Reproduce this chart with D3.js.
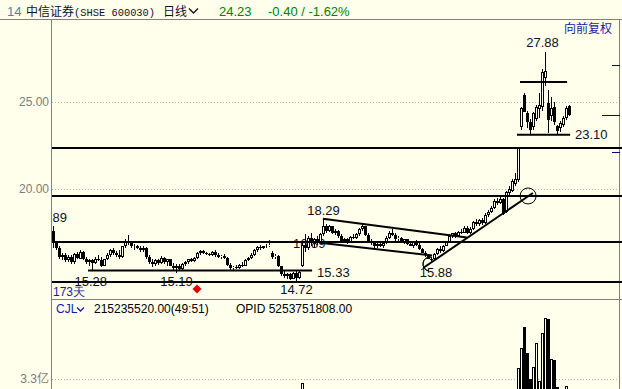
<!DOCTYPE html>
<meta charset="utf-8">
<style>
body { margin: 0; background: #ffffec; }
svg { display: block; font-family: "Liberation Sans", Arial, sans-serif; }
</style>
<body>
<svg width="622" height="389"></svg>
<script src="https://cdn.jsdelivr.net/npm/d3@7"></script>
<script>

// daily bars, forward adjusted (向前复权)
var opens = [
  17.6,16.9,16.6,16.1,16.2,15.9,16.1,15.8,16.25,16.0,
  16.4,16.0,15.8,15.9,15.75,16.0,15.9,15.6,15.95,16.2,
  16.5,16.3,16.2,16.1,16.7,17.0,16.9,16.7,16.75,16.6,
  16.5,16.6,16.1,15.8,15.7,15.9,15.75,16.05,15.8,15.95,
  15.6,15.45,15.6,15.4,15.7,15.8,15.95,15.85,16.05,16.3,
  16.45,16.3,16.25,16.2,16.4,16.2,16.1,16.15,16.05,15.65,
  15.45,15.5,15.45,15.65,15.6,15.9,16.05,16.2,16.5,16.65,
  16.6,16.7,16.75,16.3,16.1,16.15,15.55,15.1,15.0,15.1,
  14.85,15.2,14.9,15.6,16.8,16.6,17.2,16.9,17.1,16.95,
  17.4,17.9,17.6,17.85,17.45,17.6,17.3,17.0,17.1,16.95,
  17.25,17.2,17.4,17.7,17.85,17.35,17.0,16.9,16.7,16.85,
  16.7,16.9,17.2,17.5,17.35,17.1,17.2,16.95,17.1,16.85,
  16.75,16.95,16.8,16.55,16.35,16.2,16.0,15.95,16.25,16.55,
  16.45,16.75,16.95,17.3,17.45,17.3,17.55,17.5,17.75,17.45,
  17.7,18.1,18.0,18.2,18.05,18.5,18.7,18.9,19.3,19.2,
  19.4,18.7,19.75,19.9,20.3,20.5,23.55,25.4,24.35,23.85,
  23.55,24.0,24.6,24.7,26.4,24.95,24.2,24.7,23.6,23.5,
  23.7,24.1,24.75
];
var highs = [
  17.89,17.0,16.7,16.3,16.3,16.2,16.2,16.3,16.4,16.5,
  16.45,16.1,16.0,16.0,16.1,16.2,16.1,16.0,16.3,16.55,
  16.6,16.45,16.5,16.75,17.1,17.35,17.0,16.85,16.8,16.75,
  16.7,16.65,16.2,16.0,16.0,16.0,16.15,16.1,16.0,16.0,
  15.75,15.7,15.7,15.75,15.85,16.0,16.05,16.1,16.4,16.5,
  16.5,16.4,16.35,16.45,16.5,16.3,16.2,16.25,16.1,15.75,
  15.6,15.65,15.7,15.8,15.95,16.1,16.3,16.55,16.7,16.8,
  16.75,16.85,17.05,16.45,16.25,16.2,15.6,15.3,15.2,15.2,
  15.25,15.3,15.33,17.0,17.4,17.3,17.5,17.2,17.3,17.45,
  18.29,18.0,17.95,17.9,17.7,17.65,17.4,17.2,17.2,17.3,
  17.4,17.5,17.75,17.95,17.9,17.45,17.1,17.0,16.9,16.95,
  16.95,17.3,17.6,17.7,17.45,17.3,17.25,17.15,17.15,16.95,
  17.0,17.05,16.9,16.6,16.45,16.25,16.1,16.3,16.6,16.7,
  16.8,17.0,17.4,17.5,17.55,17.6,17.7,17.85,17.85,17.8,
  18.15,18.3,18.25,18.35,18.6,18.8,19.0,19.4,19.5,19.55,
  19.5,19.9,20.2,20.6,20.9,22.4,24.7,25.5,24.5,24.0,
  24.4,24.8,25.5,26.9,27.88,25.7,25.3,25.0,23.7,23.9,
  24.2,24.75,24.8
];
var lows = [
  16.6,16.5,16.0,15.9,15.8,15.8,15.7,15.7,16.0,15.95,
  15.9,15.7,15.6,15.28,15.7,15.85,15.5,15.55,15.9,16.1,
  16.2,16.1,16.0,16.05,16.6,16.8,16.6,16.5,16.55,16.4,
  16.4,16.0,15.7,15.5,15.6,15.65,15.7,15.7,15.6,15.55,
  15.3,15.19,15.3,15.35,15.6,15.7,15.8,15.8,16.0,16.2,
  16.25,16.2,16.15,16.15,16.1,16.05,15.95,16.0,15.6,15.35,
  15.35,15.4,15.4,15.5,15.55,15.85,15.95,16.15,16.4,16.5,
  16.55,16.6,16.65,16.0,15.95,15.5,15.0,14.9,14.8,14.78,
  14.8,14.72,14.8,15.5,16.4,16.5,16.7,16.6,16.8,16.9,
  17.3,17.5,17.55,17.4,17.35,17.2,16.9,16.95,16.85,16.9,
  17.1,17.1,17.3,17.6,17.3,16.95,16.8,16.6,16.6,16.65,
  16.6,16.85,17.1,17.3,17.0,17.0,16.9,16.85,16.8,16.7,
  16.6,16.7,16.5,16.3,16.1,15.95,15.88,15.9,16.2,16.35,
  16.4,16.7,16.9,17.2,17.2,17.25,17.4,17.45,17.4,17.4,
  17.65,17.9,17.85,17.95,18.0,18.4,18.6,18.85,19.1,19.15,
  18.5,18.6,19.6,19.8,20.2,20.4,23.4,24.4,23.5,23.10,
  23.4,23.9,24.1,24.5,25.9,23.2,23.9,23.7,23.1,23.3,
  23.55,23.95,24.2
];
var closes = [
  16.9,16.6,16.1,16.2,15.9,16.1,15.8,16.25,16.05,16.4,
  16.0,15.8,15.9,15.75,16.0,15.9,15.6,15.95,16.2,16.5,
  16.3,16.2,16.1,16.7,17.0,16.9,16.7,16.75,16.6,16.5,
  16.6,16.1,15.8,15.7,15.9,15.75,16.05,15.8,15.95,15.6,
  15.45,15.6,15.4,15.7,15.8,15.95,15.85,16.05,16.3,16.45,
  16.3,16.25,16.2,16.4,16.2,16.1,16.15,16.05,15.65,15.45,
  15.5,15.45,15.65,15.6,15.9,16.05,16.2,16.5,16.65,16.6,
  16.7,16.75,16.8,16.1,16.15,15.55,15.1,15.0,15.1,14.85,
  15.2,14.9,15.25,16.8,16.6,17.2,16.9,17.1,16.95,17.4,
  17.9,17.6,17.85,17.45,17.6,17.3,17.0,17.1,16.95,17.25,
  17.2,17.4,17.7,17.85,17.35,17.0,16.9,16.7,16.85,16.7,
  16.9,17.2,17.5,17.35,17.1,17.2,16.95,17.1,16.85,16.75,
  16.95,16.8,16.55,16.35,16.2,16.0,15.95,16.25,16.55,16.45,
  16.75,16.95,17.3,17.45,17.3,17.55,17.5,17.75,17.45,17.7,
  18.1,18.0,18.2,18.05,18.5,18.7,18.9,19.3,19.2,19.45,
  18.55,19.8,20.0,20.45,20.6,22.4,24.65,24.45,23.85,23.4,
  24.35,24.7,24.8,26.7,26.8,23.95,24.65,23.85,23.35,23.8,
  24.1,24.63,24.23
];
// CJL, in 亿
var volumes = [
  1.6,1.2,1.1,0.9,0.8,0.9,0.8,1.0,0.9,1.0,
  0.8,0.9,0.8,1.1,0.9,0.8,0.9,0.8,0.9,1.1,
  0.9,0.8,0.8,1.2,1.4,1.5,1.0,0.9,0.8,0.8,
  0.7,0.9,1.0,0.9,0.8,0.7,0.8,0.7,0.7,0.8,
  0.9,1.0,0.8,0.8,0.7,0.8,0.7,0.8,1.0,1.0,
  0.8,0.7,0.7,0.8,0.8,0.7,0.7,0.7,0.9,1.0,
  0.8,0.7,0.7,0.7,0.8,0.9,1.0,1.2,1.3,1.1,
  1.0,1.1,1.4,1.2,0.9,1.1,1.3,1.0,0.9,1.1,
  1.0,0.9,1.0,3.08,2.2,1.8,1.9,1.5,1.4,1.6,
  2.1,1.6,1.3,1.2,1.1,1.0,1.1,0.9,0.9,1.0,
  0.9,1.0,1.2,1.3,1.1,1.0,0.9,0.9,0.8,0.8,
  0.8,1.0,1.2,1.0,0.9,0.8,0.8,0.8,0.8,0.7,
  0.8,0.8,0.9,1.0,1.0,1.1,1.0,1.2,1.3,1.1,
  1.2,1.3,1.6,1.4,1.2,1.3,1.2,1.4,1.2,1.3,
  1.6,1.5,1.4,1.3,1.7,1.8,1.9,2.2,1.9,2.1,
  2.4,2.3,2.2,2.4,2.5,3.9,5.0,6.1,4.7,3.3,
  3.95,5.25,3.2,5.8,6.6,6.55,4.4,4.35,2.85,2.3,
  2.4,2.9,2.15
];

var priceTicks = [20, 25];
var volTicks = [3.3];

// drawn lines: full width levels, and segments [[bar, price], [bar, price]]
var levels = [22.36, 19.6, 16.93, 14.66];
var segments = [
  [[11.5, 15.32], [86.2, 15.32]],
  [[155.5, 26.15], [171.2, 26.15]],
  [[154.5, 23.12], [172.2, 23.12]],
  [[89.8, 18.29], [137.8, 17.21]],
  [[88.8, 16.91], [126.2, 16.18]],
  [[123.2, 15.46], [159.8, 19.77]]
];

var svg = d3.select("svg");
var W = 622, H = 389;
var cream = "#ffffec";

var x = d3.scaleLinear().domain([0, closes.length - 1]).range([53.5, 569.5]);
var y = d3.scaleLinear().domain([20, 25]).range([189, 102]);
var yv = d3.scaleLinear().domain([0, 3.3]).range([440, 379]);

svg.append("rect").attr("width", W).attr("height", H).attr("fill", cream);

var defs = svg.append("defs");
defs.append("clipPath").attr("id", "cp").append("rect")
    .attr("x", 52).attr("y", 20).attr("width", W - 52).attr("height", 279);
defs.append("clipPath").attr("id", "cv").append("rect")
    .attr("x", 52).attr("y", 300).attr("width", W - 52).attr("height", H - 300);

// frame
var frame = svg.append("g").attr("stroke", "#808080").attr("stroke-width", 1);
frame.append("line").attr("x1", 0).attr("x2", W).attr("y1", 19.5).attr("y2", 19.5);
frame.append("line").attr("x1", 51.5).attr("x2", 51.5).attr("y1", 19.5).attr("y2", H);
frame.append("line").attr("x1", 619.5).attr("x2", 619.5).attr("y1", 19.5).attr("y2", H);
frame.append("line").attr("x1", 51.5).attr("x2", W).attr("y1", 299.5).attr("y2", 299.5);

// grid
svg.append("g").selectAll("line")
  .data(priceTicks.map(function(d) { return y(d); }).concat(volTicks.map(function(d) { return yv(d); })))
  .enter().append("line")
    .attr("x1", 52).attr("x2", 619)
    .attr("y1", function(d) { return Math.round(d) + 0.5; })
    .attr("y2", function(d) { return Math.round(d) + 0.5; })
    .attr("stroke", "#b4b4b4").attr("stroke-dasharray", "1,2");

// axes
var ax = svg.append("g").attr("transform", "translate(49,0)")
    .call(d3.axisLeft(y).tickValues(priceTicks).tickFormat(d3.format(".2f")).tickSize(0).tickPadding(0));
var axv = svg.append("g").attr("transform", "translate(49,0)")
    .call(d3.axisLeft(yv).tickValues(volTicks).tickFormat(function(d) { return d + "亿"; }).tickSize(0).tickPadding(0));
[ax, axv].forEach(function(g) {
  g.select(".domain").remove();
  g.attr("font-family", "\"Liberation Sans\", \"Noto Sans CJK SC\", sans-serif").attr("font-size", 12);
  g.selectAll("text").attr("fill", "#7c7c7c");
});

// title bar
var t = svg.append("g").attr("font-size", 12);
t.append("text").attr("x", 7).attr("y", 15.5).attr("fill", "#3a8aa3").attr("font-size", 13).text("14");
var nm = t.append("text").attr("x", 26).attr("y", 15.5).attr("fill", "#10102a");
nm.append("tspan").attr("font-family", "Noto Sans CJK SC").text("中信证券");
nm.append("tspan").attr("font-family", "Liberation Mono").attr("font-size", 10.4).text("(SHSE 600030)");
t.append("text").attr("x", 163).attr("y", 15.5).attr("fill", "#10102a")
    .attr("font-family", "Noto Sans CJK SC").text("日线");
t.append("path").attr("d", "M189,8.5L193.5,13L198,8.5").attr("fill", "none").attr("stroke", "#10102a").attr("stroke-width", 1.4);
t.append("text").attr("x", 219).attr("y", 16).attr("fill", "#008000").attr("font-size", 13).text("24.23");
t.append("text").attr("x", 268).attr("y", 16).attr("fill", "#008000").attr("font-size", 13).text("-0.40 / -1.62%");

svg.append("text").attr("x", 564).attr("y", 33).attr("fill", "#1a1aa0")
    .attr("font-family", "Noto Sans CJK SC").attr("font-size", 12).text("向前复权");

// right side marks
svg.append("g").attr("stroke", "#000080").selectAll("line")
  .data([[612, 65], [602, 115], [612, 152]])
  .enter().append("line")
    .attr("x1", function(d) { return d[0]; }).attr("x2", 620)
    .attr("y1", function(d) { return d[1] + 0.5; }).attr("y2", function(d) { return d[1] + 0.5; });

var plot = svg.append("g").attr("clip-path", "url(#cp)");

// value notes
var notes = plot.append("g").attr("font-size", 13).attr("fill", "#101020");
notes.append("text").attr("x", x(0) - 1).attr("y", y(17.89) - 4).text("89");
notes.append("text").attr("x", 293).attr("y", y(16.93) + 6).text("16.89");
notes.append("text").attr("x", x(90)).attr("y", y(18.29) - 4).attr("text-anchor", "middle").text("18.29");
notes.append("text").attr("x", x(12.4)).attr("y", y(15.28) + 15).attr("text-anchor", "middle").text("15.28");
notes.append("text").attr("x", x(41)).attr("y", y(15.19) + 13.5).attr("text-anchor", "middle").text("15.19");
notes.append("text").attr("x", x(81)).attr("y", y(14.72) + 13).attr("text-anchor", "middle").text("14.72");
notes.append("text").attr("x", x(86.2) + 5).attr("y", y(15.32) + 6.5).text("15.33");
notes.append("text").attr("x", x(127.5)).attr("y", y(15.88) + 16).attr("text-anchor", "middle").text("15.88");
notes.append("text").attr("x", x(164) - 3).attr("y", y(27.88) - 5).attr("text-anchor", "middle").text("27.88");
notes.append("text").attr("x", 575).attr("y", y(23.10) + 4).text("23.10");
notes.append("text").attr("x", 53).attr("y", 296).attr("fill", "#1a1aa0").attr("font-size", 12)
    .text("173天");
notes.append("path").attr("d", "M197,284.5L201.5,289L197,293.5L192.5,289Z").attr("fill", "#e00000");

// candles
var bars = closes.map(function(c, i) {
  return {i: i, o: opens[i], h: highs[i], l: lows[i], c: c, v: volumes[i]};
});
var cs = plot.append("g");
bars.forEach(function(d) {
  var cx = x(d.i);
  var top = Math.round(y(Math.max(d.o, d.c)));
  var bot = Math.round(y(Math.min(d.o, d.c)));
  var hi = Math.round(y(d.h)), lo = Math.round(y(d.l));
  if (d.c >= d.o) {
    cs.append("line").attr("x1", cx).attr("x2", cx).attr("y1", hi).attr("y2", top).attr("stroke", "#000");
    cs.append("line").attr("x1", cx).attr("x2", cx).attr("y1", bot).attr("y2", lo).attr("stroke", "#000");
    cs.append("rect").attr("x", cx - 1).attr("y", top + 0.5)
        .attr("width", 2).attr("height", Math.max(bot - top - 1, 0))
        .attr("fill", cream).attr("stroke", "#000");
  } else {
    cs.append("line").attr("x1", cx).attr("x2", cx).attr("y1", hi).attr("y2", lo).attr("stroke", "#000");
    cs.append("rect").attr("x", cx - 1.5).attr("y", top)
        .attr("width", 3).attr("height", Math.max(bot - top, 1)).attr("fill", "#000");
  }
});

// drawn lines
var dl = plot.append("g").attr("stroke", "#000").attr("stroke-width", 2).attr("fill", "none");
dl.selectAll(".lvl").data(levels).enter().append("line")
    .attr("x1", 52).attr("x2", W)
    .attr("y1", function(d) { return Math.round(y(d)); })
    .attr("y2", function(d) { return Math.round(y(d)); });
dl.selectAll(".seg").data(segments).enter().append("line")
    .attr("x1", function(d) { return x(d[0][0]); }).attr("y1", function(d) { return y(d[0][1]); })
    .attr("x2", function(d) { return x(d[1][0]); }).attr("y2", function(d) { return y(d[1][1]); });
dl.append("circle").attr("cx", x(158.2)).attr("cy", y(19.6)).attr("r", 8).attr("stroke-width", 1);
dl.append("path")
    .attr("transform", "translate(" + x(125.5) + "," + y(15.69) + ")")
    .attr("d", d3.arc()({innerRadius: 7, outerRadius: 7, startAngle: Math.PI * 1.05, endAngle: Math.PI * 2.05}))
    .attr("stroke-width", 1);

// CJL panel
var vp = svg.append("g").attr("clip-path", "url(#cv)");
bars.forEach(function(d) {
  var cx = x(d.i);
  var top = Math.round(yv(d.v));
  if (d.c >= d.o) {
    vp.append("rect").attr("x", cx - 1).attr("y", top + 0.5).attr("width", 2).attr("height", 440 - top)
        .attr("fill", cream).attr("stroke", "#000");
  } else {
    vp.append("rect").attr("x", cx - 1.5).attr("y", top).attr("width", 3).attr("height", 440 - top)
        .attr("fill", "#000");
  }
});

var leg = svg.append("g").attr("font-size", 12);
leg.append("text").attr("x", 56).attr("y", 313).attr("fill", "#1a1aa0").text("CJL");
leg.append("path").attr("d", "M77,307.5L80.5,311L84,307.5").attr("fill", "none").attr("stroke", "#1a1aa0").attr("stroke-width", 1.3);
leg.append("text").attr("x", 94).attr("y", 313).attr("fill", "#000").text("215235520.00(49:51)");
leg.append("text").attr("x", 236).attr("y", 313).attr("fill", "#000").text("OPID 5253751808.00");

</script>
</body>
